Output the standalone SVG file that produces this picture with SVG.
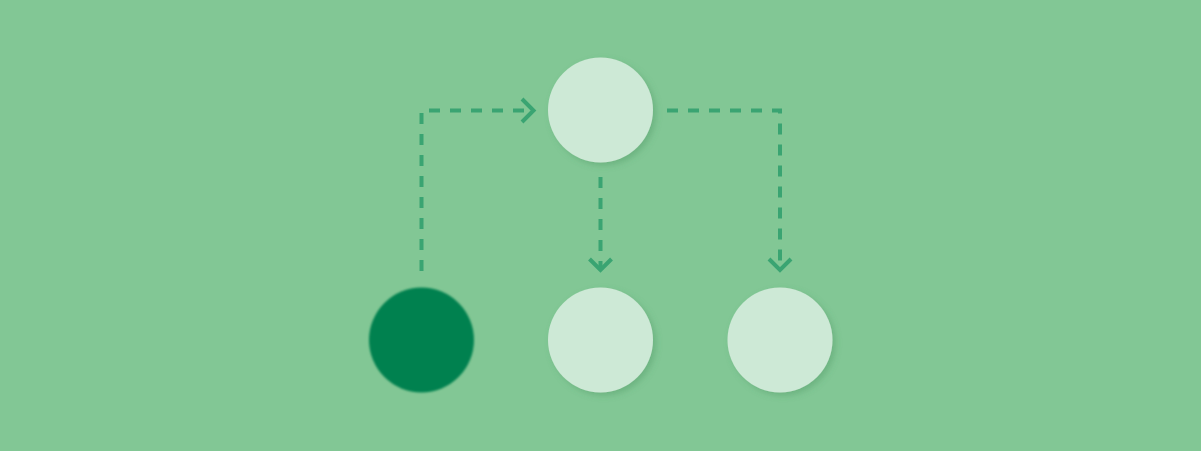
<svg xmlns="http://www.w3.org/2000/svg" width="1201" height="451" viewBox="0 0 1201 451">
<style>
.bg{fill:#82c795}
.light{fill:#cde9d6;filter:url(#sh)}
.dark{fill:#02814f;filter:url(#soft)}
.conn{fill:none;stroke:#3aa472;stroke-width:4;stroke-dasharray:11 10}
.head{fill:none;stroke:#3aa472;stroke-width:4;stroke-linecap:butt;stroke-linejoin:miter}
</style>
<defs>
<filter id="sh" x="-30%" y="-30%" width="160%" height="160%">
<feDropShadow dx="3" dy="3" stdDeviation="3" flood-color="#3f8f5c" flood-opacity="0.35"/>
</filter>
<filter id="soft" x="-20%" y="-20%" width="140%" height="140%">
<feGaussianBlur stdDeviation="1.2"/>
</filter>
</defs>
<rect class="bg" x="0" y="0" width="1201" height="451"/>
<g id="connectors">
<path class="conn" d="M421.5 271 V110.5 H530"/>
<path class="head" d="M522 99 L533.5 110.5 L522 122"/>
<path class="conn" d="M600.5 177 V268"/>
<path class="head" d="M589.5 259 L600.5 270 L611.5 259"/>
<path class="conn" d="M667 110.5 H780 V268"/>
<path class="head" d="M769 259 L780 270 L791 259"/>
</g>
<g id="node-top"><circle class="light" cx="600.5" cy="110" r="52.5"/></g>
<g id="node-dark"><circle class="dark" cx="421.5" cy="340" r="52.5"/></g>
<g id="node-mid"><circle class="light" cx="600.5" cy="340" r="52.5"/></g>
<g id="node-right"><circle class="light" cx="780" cy="340" r="52.5"/></g>
</svg>
